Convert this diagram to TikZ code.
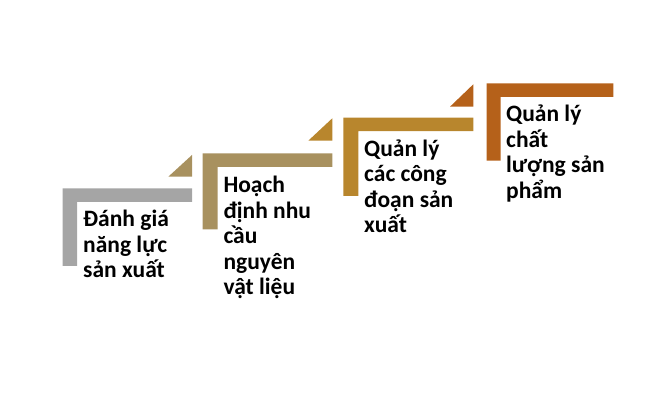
\documentclass[tikz,border=0pt]{standalone}
\usepackage{fontspec}
\setmainfont{Carlito}
\usepackage{tikz}

\definecolor{stepgray}{HTML}{A5A5A5}
\definecolor{steptan}{HTML}{A8915F}
\definecolor{stepgold}{HTML}{B8862D}
\definecolor{steprust}{HTML}{B5611A}

\begin{document}
\begin{tikzpicture}[x=1pt, y=1pt,
    lbl/.style = {anchor=base west, align=left, inner sep=0pt,
                  font=\fontsize{23.5}{25.5}\selectfont\bfseries}]
                \useasboundingbox (0,0) rectangle (665,402);
                % step 1
                \fill[stepgray] (62.5,213.7) -- (192,213.7) -- (192,200.2) -- (77,200.2) -- (77,136) -- (62.5,136) -- cycle;
                \fill[steptan] (168.3,225.3) -- (192,247) -- (192,225.3) -- cycle;
                \node[lbl] (s1) at (83,124) {Đánh giá\\năng lực\\sản xuất};
                % step 2
                \fill[steptan] (202.5,248.7) -- (332.3,248.7) -- (332.3,235.2) -- (217.5,235.2) -- (217.5,172.5) -- (202.5,172.5) -- cycle;
                \fill[stepgold] (308.3,261.3) -- (332.3,283.7) -- (332.3,261.3) -- cycle;
                \node[lbl] (s2) at (223.3,107) {Hoạch\\định nhu\\cầu\\nguyên\\vật liệu};
                % step 3
                \fill[stepgold] (343.3,284.3) -- (473.3,284.3) -- (473.3,270.8) -- (358.3,270.8) -- (358.3,206) -- (343.3,206) -- cycle;
                \fill[steprust] (450,295.3) -- (473.3,317.7) -- (473.3,295.3) -- cycle;
                \node[lbl] (s3) at (364,169) {Quản lý\\các công\\đoạn sản\\xuất};
                % step 4
                \fill[steprust] (486.7,318.7) -- (613.3,318.7) -- (613.3,305.2) -- (500.5,305.2) -- (500.5,241.3) -- (486.7,241.3) -- cycle;
                \node[lbl] (s4) at (506,203.5) {Quản lý\\chất\\lượng sản\\phẩm};
            \end{tikzpicture}
\end{document}
